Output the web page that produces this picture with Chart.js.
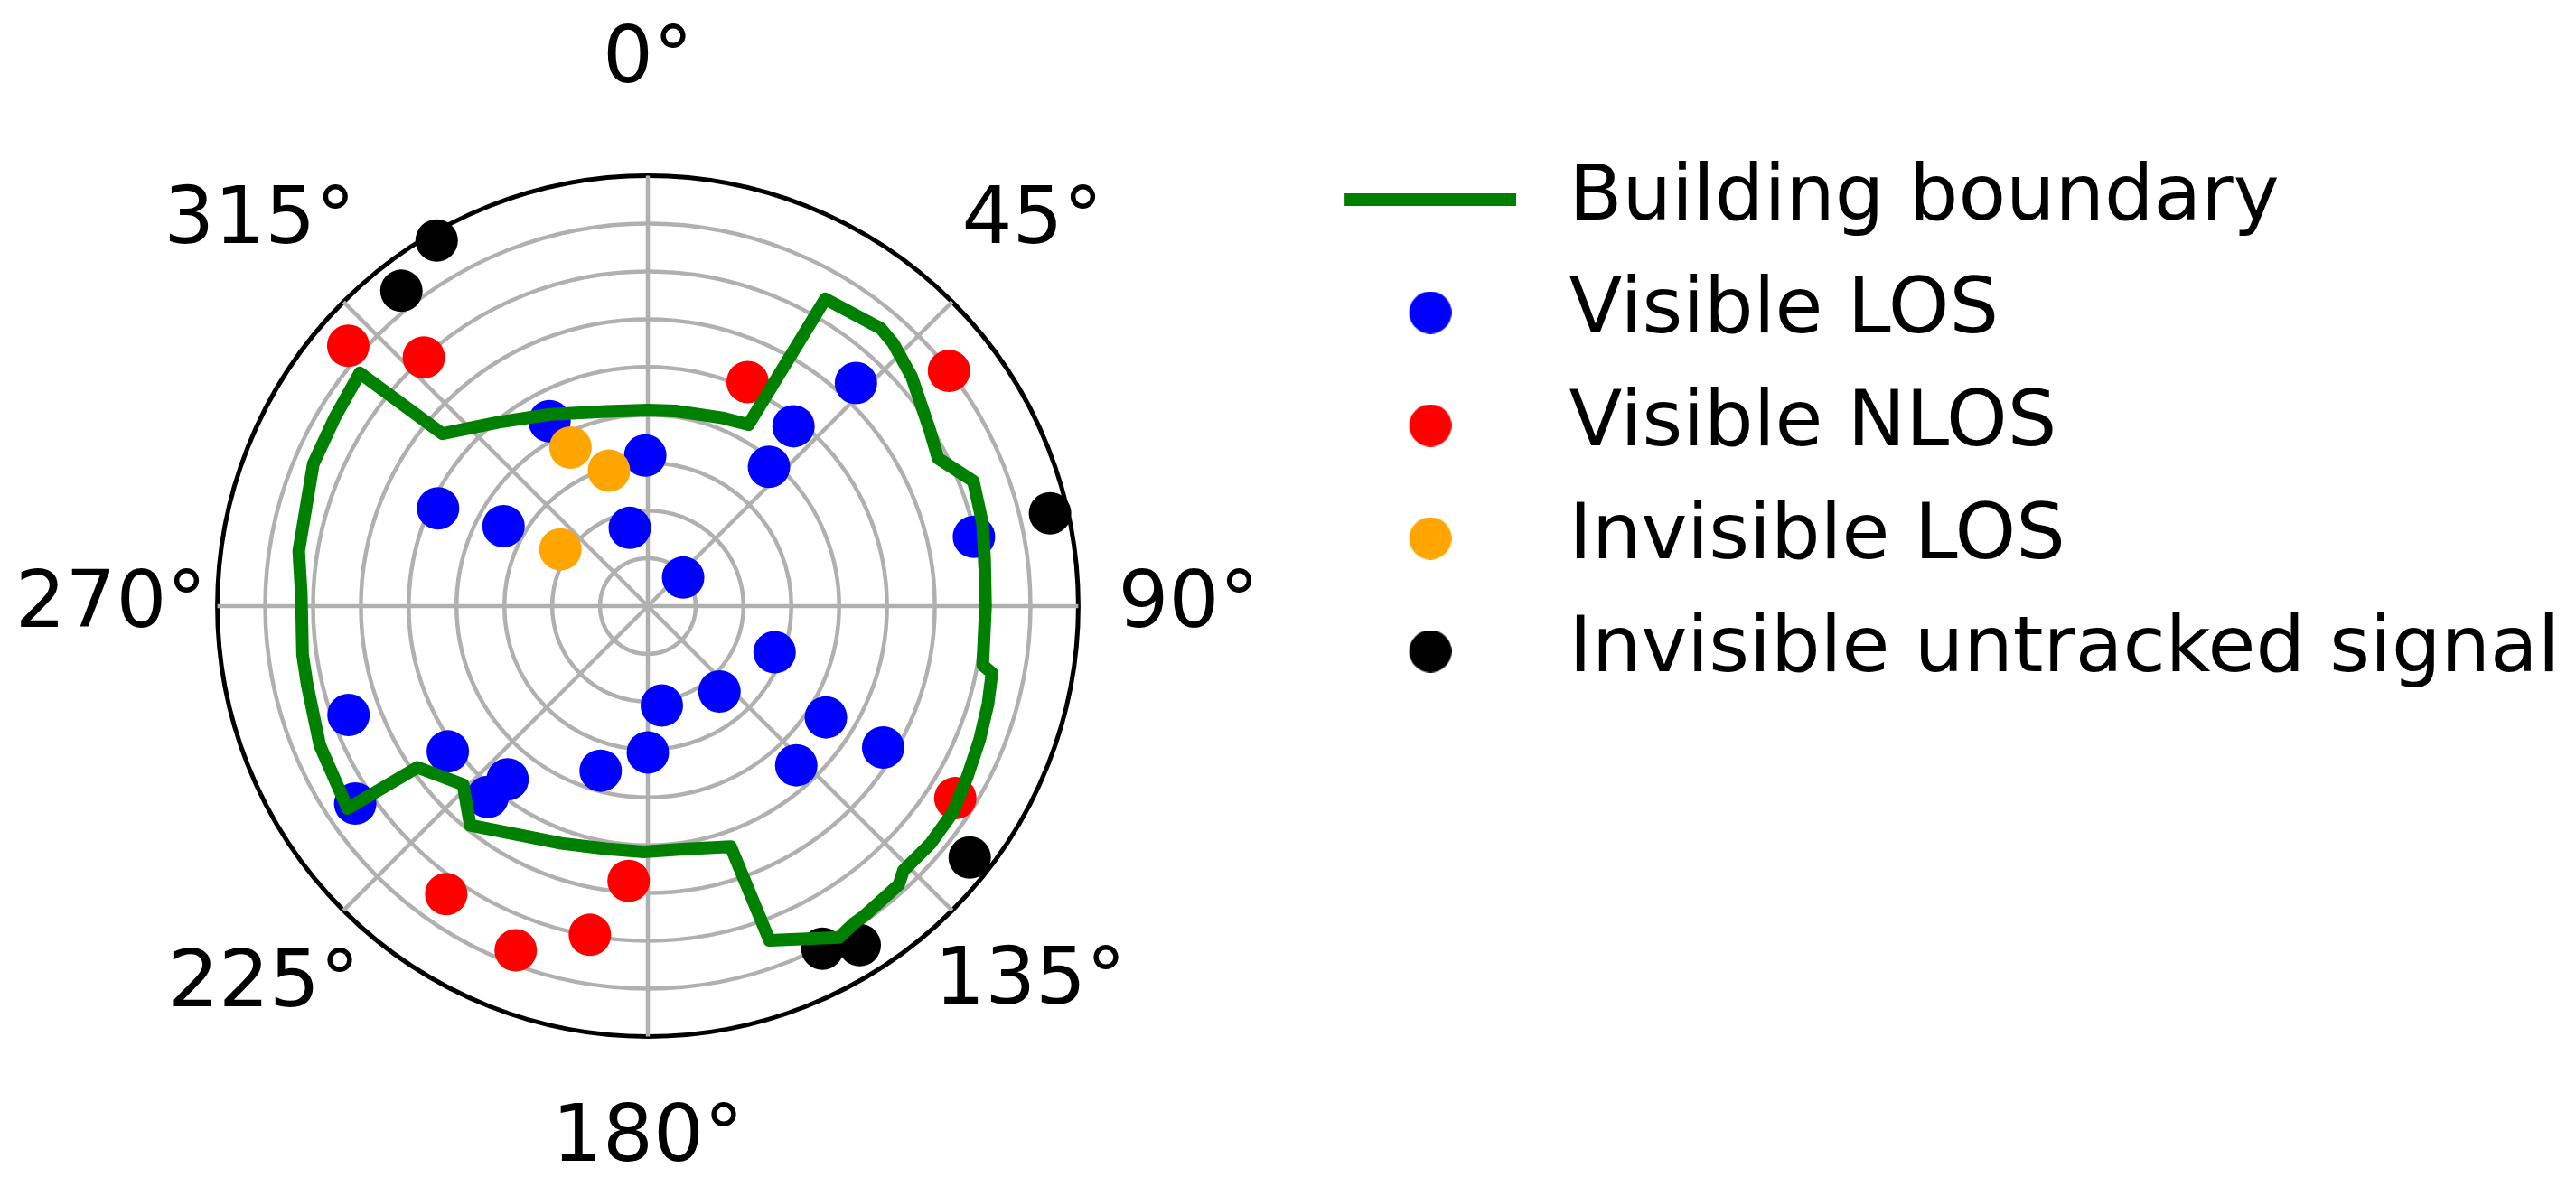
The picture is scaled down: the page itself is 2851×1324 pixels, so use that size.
<!DOCTYPE html>
<html>
<head>
<meta charset="utf-8">
<script src="https://cdn.jsdelivr.net/npm/chart.js@4/dist/chart.umd.min.js"></script>
<style>
  html, body { margin: 0; padding: 0; background: #fff; }
  canvas { display: block; }
</style>
</head>
<body>
<canvas id="skyplot" width="2851" height="1324"></canvas>
<script>
// azimuth ticks: spokes every 45 deg
const tickAngles = [0, 45, 90, 135, 180, 225, 270, 315];
const tickLabels = ['0°', '45°', '90°', '135°', '180°', '225°', '270°', '315°'];
// chart.js anchors a label by its corner, matplotlib centres it,
// so the diagonal labels hang off a neighbouring degree slot
const labelSlot = [0, 43, 90, 139, 180, 221, 270, 319];
const labelPad = [74, 33, 44, 7, 62, 10, 12, 17];

// building boundary: azimuth (deg) and zenith distance (90 - elevation)
const boundaryAz = [0, 8, 16, 22, 29, 30, 40, 43, 49, 58, 63, 69, 76, 82, 90, 100, 101, 106, 112, 118,
  124, 130, 136, 138, 145, 147, 150, 160, 161, 171, 181, 190, 200, 210, 219, 226, 235, 236, 247, 257,
  262, 272, 279, 293, 301, 309, 310, 321, 333, 348];
const boundaryR = [41, 41.2, 41.6, 42.4, 43.4, 74.2, 75.8, 75.2, 73.1, 69.5, 68.1, 72.9, 72.1, 71.1, 70.6, 71.1, 73.3, 74, 74.8, 75.7,
  77, 77.2, 76.9, 78.4, 79, 79.1, 80, 74.4, 53.2, 51.4, 51.4, 51.5, 52.8, 55.1, 59, 53.7, 58.8, 75.7, 74.5, 73.1,
  72.9, 72.5, 73.9, 76, 76.4, 77.5, 56.1, 49.5, 45, 41.6];

// satellites
const losAz = [332, 359, 295, 299, 347, 43, 39, 41, 78, 51, 110, 140, 172, 180, 122, 121, 137, 250, 234, 219, 220, 236, 196];
const losR = [43.8, 31.5, 48.4, 34.5, 16.8, 63.8, 48.4, 38.6, 69.7, 9.5, 28.2, 23.3, 21, 30.6, 43.9, 57.4, 45.5, 66.6, 51.7, 46.6, 52.1, 73.8, 35.8];

const nlosAz = [311, 318, 24, 52, 122, 215, 201, 190, 184];
const nlosR = [83, 70, 51.3, 79.9, 75.8, 73.5, 77.1, 69.8, 57.6];

const invLosAz = [334, 344, 303];
const invLosR = [36.9, 29.5, 21.8];

const untrackedAz = [330, 322, 77, 128, 148, 153];
const untrackedR = [88.3, 83.7, 86.3, 85.4, 83.6, 80.4];

const N = 360;
const labels = Array.from({ length: N }, (_, i) => i);

function toSeries(az, r) {
  const arr = new Array(N).fill(null);
  az.forEach((a, i) => { arr[a % N] = r[i]; });
  return arr;
}

// legend symbols (drawn a bit right of the box centre)
const ICON_SHIFT = 22;
function lineIcon(color, w, h) {
  const c = document.createElement('canvas');
  c.width = w + ICON_SHIFT; c.height = h;
  const g = c.getContext('2d');
  g.fillStyle = color;
  g.fillRect(ICON_SHIFT, 0, w, h);
  return c;
}
function dotIcon(color, d) {
  const c = document.createElement('canvas');
  c.width = d + ICON_SHIFT; c.height = d;
  const g = c.getContext('2d');
  g.fillStyle = color;
  g.beginPath();
  g.arc(ICON_SHIFT + d / 2, d / 2, d / 2, 0, Math.PI * 2);
  g.fill();
  return c;
}

const GREEN = '#008000', BLUE = '#0000ff', RED = '#ff0000', ORANGE = '#ffa500', BLACK = '#000000';
const legendIcons = [lineIcon(GREEN, 190, 14), dotIcon(BLUE, 47), dotIcon(RED, 47), dotIcon(ORANGE, 47), dotIcon(BLACK, 47)];

function scatterSet(label, az, r, color, order) {
  return {
    label: label,
    data: toSeries(az, r),
    showLine: false,
    fill: false,
    borderColor: color,
    backgroundColor: color,
    pointBackgroundColor: color,
    pointBorderWidth: 0,
    pointRadius: 23.5,
    order: order
  };
}

const ctx = document.getElementById('skyplot').getContext('2d');

new Chart(ctx, {
  type: 'radar',
  data: {
    labels: labels,
    datasets: [
      {
        label: 'Building boundary',
        data: toSeries(boundaryAz, boundaryR),
        borderColor: GREEN,
        backgroundColor: GREEN,
        borderWidth: 14,
        borderJoinStyle: 'round',
        tension: 0,
        pointRadius: 0,
        fill: false,
        spanGaps: true,
        order: 1
      },
      scatterSet('Visible LOS', losAz, losR, BLUE, 5),
      scatterSet('Visible NLOS', nlosAz, nlosR, RED, 4),
      scatterSet('Invisible LOS', invLosAz, invLosR, ORANGE, 3),
      scatterSet('Invisible untracked signal', untrackedAz, untrackedR, BLACK, 2)
    ]
  },
  options: {
    responsive: false,
    devicePixelRatio: 1,
    animation: false,
    events: [],
    layout: { padding: { left: 0, right: 8.3, top: 9, bottom: 3 } },
    scales: {
      r: {
        min: 0,
        max: 90,
        beginAtZero: true,
        ticks: { display: false, stepSize: 10 },
        grid: {
          circular: true,
          color: c => c.tick.value === 90 ? BLACK : '#b0b0b0',
          lineWidth: c => c.tick.value === 90 ? 5 : 4.5
        },
        angleLines: {
          color: '#b0b0b0',
          lineWidth: c => tickAngles.includes(c.index) ? 4.5 : 0
        },
        pointLabels: {
          display: true,
          color: BLACK,
          callback: (lbl, i) => {
            const k = labelSlot.indexOf(i);
            return k < 0 ? '' : tickLabels[k];
          },
          font: c => ({ family: 'DejaVu Sans', size: labelSlot.includes(c.index) ? 88 : 1 }),
          padding: c => {
            const k = labelSlot.indexOf(c.index);
            return k < 0 ? 0 : labelPad[k];
          }
        }
      }
    },
    plugins: {
      colors: { enabled: false },
      tooltip: { enabled: false },
      legend: {
        position: 'right',
        align: 'start',
        maxWidth: 1500,
        title: { display: true, text: '', font: { size: 10 }, padding: { top: 118, bottom: 0 } },
        labels: {
          usePointStyle: true,
          pointStyleWidth: 243,
          padding: 39,
          color: BLACK,
          font: { family: 'DejaVu Sans', size: 86 },
          sort: (a, b) => a.datasetIndex - b.datasetIndex,
          generateLabels: chart => {
            const items = Chart.defaults.plugins.legend.labels.generateLabels(chart);
            items.forEach(it => { it.pointStyle = legendIcons[it.datasetIndex]; });
            return items;
          }
        }
      }
    }
  }
});
</script>
</body>
</html>
